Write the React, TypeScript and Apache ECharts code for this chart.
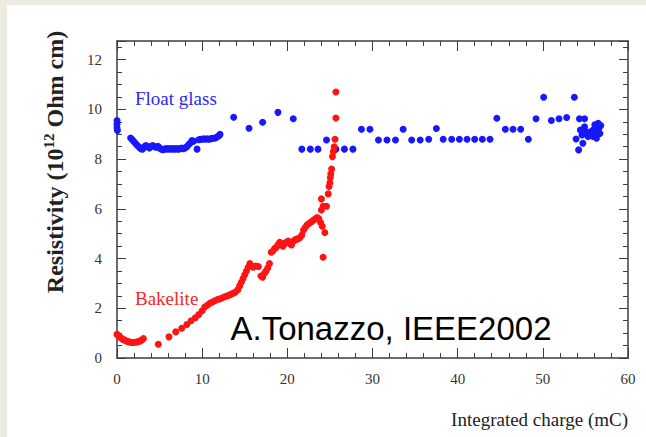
import React, { useEffect, useRef } from 'react';
import * as echarts from 'echarts';

// Axis ranges / tick steps
const xRange = [0, 60];
const yRange = [0, 12.75];
const xMajorStep = 10;
const yMajorStep = 2;
const yMinorStep = 0.5;

const seriesNames = ['Float glass', 'Bakelite'];

// Float glass resistivity (10^12 Ohm cm) vs integrated charge (mC)
const floatGlass: [number, number][] = [
  [0, 9.55], [0, 9.4], [0, 9.25], [0.05, 9.15],
  [1.6, 8.85], [1.8, 8.78], [2.0, 8.7], [2.2, 8.62], [2.4, 8.55], [2.6, 8.48], [2.8, 8.42],
  [3.0, 8.4], [3.2, 8.5], [3.4, 8.55], [3.6, 8.5], [3.8, 8.45], [4.0, 8.52], [4.2, 8.55],
  [4.4, 8.5], [4.6, 8.48], [4.8, 8.52], [5.0, 8.45], [5.2, 8.4], [5.4, 8.38], [5.6, 8.4],
  [5.8, 8.42], [6.0, 8.4], [6.2, 8.42], [6.4, 8.4], [6.6, 8.42], [6.8, 8.4], [7.0, 8.42],
  [7.2, 8.4], [7.4, 8.42], [7.6, 8.44], [7.8, 8.42], [8.0, 8.45], [8.2, 8.5], [8.4, 8.58],
  [8.6, 8.65], [8.8, 8.75], [9.0, 8.72], [9.4, 8.4], [9.6, 8.78], [9.8, 8.8], [10.0, 8.8],
  [10.2, 8.82], [10.4, 8.8], [10.6, 8.82], [10.8, 8.8], [11.0, 8.82], [11.2, 8.84], [11.4, 8.84],
  [11.6, 8.86], [11.8, 8.9], [12.0, 8.95], [12.1, 9.0],
  [13.7, 9.68], [15.5, 9.24], [17.1, 9.48], [18.9, 9.88], [20.7, 9.62],
  [21.7, 8.4], [22.7, 8.4], [23.6, 8.4], [24.6, 8.77], [25.7, 8.4], [26.7, 8.4], [27.7, 8.4],
  [28.7, 9.2], [29.7, 9.2], [30.7, 8.77], [31.7, 8.77], [32.7, 8.77], [33.6, 9.2], [34.6, 8.77],
  [35.6, 8.77], [36.6, 8.8], [37.5, 9.23], [38.3, 8.8], [39.3, 8.8], [40.2, 8.8], [41.1, 8.8],
  [42.0, 8.8], [42.9, 8.8], [43.8, 8.8], [44.6, 9.64], [45.6, 9.2], [46.5, 9.2], [47.4, 9.2],
  [48.3, 8.8], [49.2, 9.62], [50.1, 10.49], [51.0, 9.55], [51.9, 9.62], [52.8, 9.67],
  [53.7, 10.49], [54.3, 9.62], [54.9, 9.62], [53.9, 8.81], [54.2, 8.37], [54.4, 9.17],
  [54.7, 8.64], [55.1, 9.1], [55.5, 9.03], [55.9, 9.17], [56.3, 9.3], [56.5, 9.44], [56.7, 9.03],
  [56.3, 8.84], [55.7, 8.97], [55.3, 8.91], [55.9, 8.91], [56.5, 9.17], [56.1, 9.38], [54.6, 8.97],
  [54.9, 9.3], [56.6, 9.25], [56.2, 9.1], [55.6, 9.1], [56.8, 9.35], [56.0, 9.05],
];

// Bakelite resistivity (10^12 Ohm cm) vs integrated charge (mC)
const bakelite: [number, number][] = [
  [0, 0.95], [0.15, 0.9], [0.3, 0.85], [0.5, 0.8], [0.7, 0.75], [0.9, 0.72], [1.1, 0.68],
  [1.3, 0.66], [1.5, 0.64], [1.7, 0.62], [1.9, 0.62], [2.1, 0.63], [2.3, 0.64], [2.5, 0.66],
  [2.7, 0.68], [2.9, 0.72], [3.1, 0.78],
  [4.85, 0.55], [6.1, 0.85], [6.9, 1.05], [7.6, 1.2], [8.2, 1.35], [8.7, 1.5], [9.2, 1.62],
  [9.6, 1.75], [10.0, 1.9], [10.3, 2.05], [10.6, 2.12], [10.9, 2.2], [11.2, 2.25], [11.5, 2.3],
  [11.8, 2.35], [12.1, 2.38], [12.4, 2.42], [12.7, 2.47], [13.0, 2.5], [13.3, 2.55], [13.6, 2.6],
  [13.9, 2.65], [14.2, 2.75], [14.4, 2.9], [14.6, 3.05], [14.8, 3.2], [15.0, 3.35], [15.2, 3.5],
  [15.4, 3.65], [15.6, 3.8], [15.8, 3.7], [16.0, 3.65], [16.3, 3.7], [16.6, 3.68], [16.9, 3.3],
  [17.1, 3.25], [17.3, 3.4], [17.5, 3.5], [17.7, 3.62], [17.9, 3.8], [18.1, 4.25], [18.3, 4.3],
  [18.5, 4.4], [18.7, 4.45], [18.9, 4.55], [19.1, 4.65], [19.3, 4.55], [19.5, 4.5], [19.7, 4.62],
  [19.9, 4.65], [20.1, 4.7], [20.3, 4.6], [20.5, 4.55], [20.7, 4.7], [20.9, 4.75], [21.1, 4.78],
  [21.3, 4.8], [21.5, 4.85], [21.7, 4.95], [21.9, 5.15], [22.1, 5.25], [22.3, 5.35], [22.5, 5.4],
  [22.7, 5.45], [22.9, 5.5], [23.1, 5.55], [23.3, 5.6], [23.5, 5.65], [23.7, 5.6], [23.9, 5.45],
  [24.1, 5.3], [24.4, 5.05], [24.2, 4.05], [24.0, 5.95], [24.2, 6.1], [24.0, 6.4], [24.6, 6.1],
  [24.8, 6.6], [24.9, 6.9], [25.0, 7.05], [25.05, 7.25], [25.1, 7.4], [25.2, 7.6], [25.3, 8.1],
  [25.4, 8.3], [25.5, 8.5], [25.6, 8.8], [25.7, 9.65], [25.7, 10.7],
];

const serif = '"Liberation Serif", "DejaVu Serif", serif';
const axisColor = '#3c3c3c';

export default function App() {
  const ref = useRef<HTMLDivElement>(null);

  useEffect(() => {
    if (!ref.current) return;
    const chart = echarts.init(ref.current, null, { renderer: 'svg' });

    const xAxisBase = (position: 'bottom' | 'top', labels: boolean) => ({
      type: 'value',
      position,
      min: xRange[0],
      max: xRange[1],
      interval: xMajorStep,
      axisLine: { show: true, onZero: false, lineStyle: { color: axisColor, width: 1.5 } },
      axisTick: { show: true, inside: true, length: 10, lineStyle: { color: axisColor, width: 1 } },
      minorTick: { show: true, splitNumber: 5, length: 5, lineStyle: { color: axisColor, width: 1 } },
      axisLabel: { show: labels, margin: 13, fontFamily: serif, fontSize: 15, color: '#333' },
      splitLine: { show: false },
      minorSplitLine: { show: false },
    });

    const yAxisBase = (position: 'left' | 'right', step: number, tickLen: number, line: boolean, labels: boolean) => ({
      type: 'value',
      position,
      min: yRange[0],
      max: yRange[1],
      interval: step,
      axisLine: { show: line, onZero: false, lineStyle: { color: axisColor, width: 1.5 } },
      axisTick: { show: true, inside: true, length: tickLen, lineStyle: { color: axisColor, width: 1 } },
      axisLabel: {
        show: labels,
        margin: 15,
        fontFamily: serif,
        fontSize: 15,
        color: '#333',
        formatter: (v: number) => (v % yMajorStep === 0 ? String(v) : ''),
      },
      splitLine: { show: false },
    });

    chart.setOption({
      animation: false,
      backgroundColor: 'transparent',
      grid: { left: 117, right: 18, top: 41, bottom: 79, containLabel: false },
      xAxis: [xAxisBase('bottom', true), xAxisBase('top', false)],
      yAxis: [
        yAxisBase('left', yMajorStep, 9, true, true),
        yAxisBase('left', yMinorStep, 5, false, false),
        yAxisBase('right', yMajorStep, 9, true, false),
        yAxisBase('right', yMinorStep, 5, false, false),
      ],
      series: [
        {
          name: seriesNames[0],
          type: 'scatter',
          xAxisIndex: 0,
          yAxisIndex: 0,
          data: floatGlass,
          symbolSize: 7,
          itemStyle: { color: '#1818ff', opacity: 1 },
        },
        {
          name: seriesNames[1],
          type: 'scatter',
          xAxisIndex: 0,
          yAxisIndex: 0,
          data: bakelite,
          symbolSize: 7,
          itemStyle: { color: '#ff1414', opacity: 1 },
        },
      ],
      graphic: [
        {
          type: 'text',
          x: 55,
          y: 162,
          rotation: Math.PI / 2,
          style: {
            text: '{a|Resistivity (10}{s|12}{a| Ohm cm)}',
            align: 'center',
            verticalAlign: 'middle',
            fill: '#222',
            rich: {
              a: { fontFamily: serif, fontWeight: 'bold', fontSize: 24, lineHeight: 28, fill: '#222' },
              s: { fontFamily: serif, fontWeight: 'bold', fontSize: 15, lineHeight: 15, verticalAlign: 'top', fill: '#222' },
            },
          },
        },
        {
          type: 'text',
          x: 628,
          y: 419,
          style: {
            text: 'Integrated charge (mC)',
            align: 'right',
            verticalAlign: 'middle',
            fontFamily: serif,
            fontSize: 19,
            fill: '#222',
          },
        },
        {
          type: 'text',
          x: 135,
          y: 98,
          style: {
            text: seriesNames[0],
            align: 'left',
            verticalAlign: 'middle',
            fontFamily: serif,
            fontSize: 19,
            fill: '#2a2af2',
          },
        },
        {
          type: 'text',
          x: 135,
          y: 298,
          style: {
            text: seriesNames[1],
            align: 'left',
            verticalAlign: 'middle',
            fontFamily: serif,
            fontSize: 19,
            fill: '#f22a2a',
          },
        },
        {
          type: 'text',
          x: 391,
          y: 328,
          style: {
            text: 'A.Tonazzo, IEEE2002',
            align: 'center',
            verticalAlign: 'middle',
            fontFamily: '"Liberation Sans", Arial, sans-serif',
            fontSize: 33,
            fill: '#000',
          },
        },
      ],
    });

    return () => chart.dispose();
  }, []);

  return (
    <div style={{ position: 'absolute', left: 0, top: 0, width: 646, height: 437, background: '#EDEAE2', overflow: 'hidden' }}>
      <div style={{ position: 'absolute', left: 7, top: 5, right: 0, bottom: 0, background: '#ffffff' }} />
      <div ref={ref} style={{ position: 'absolute', left: 0, top: 0, width: 646, height: 437 }} />
    </div>
  );
}
